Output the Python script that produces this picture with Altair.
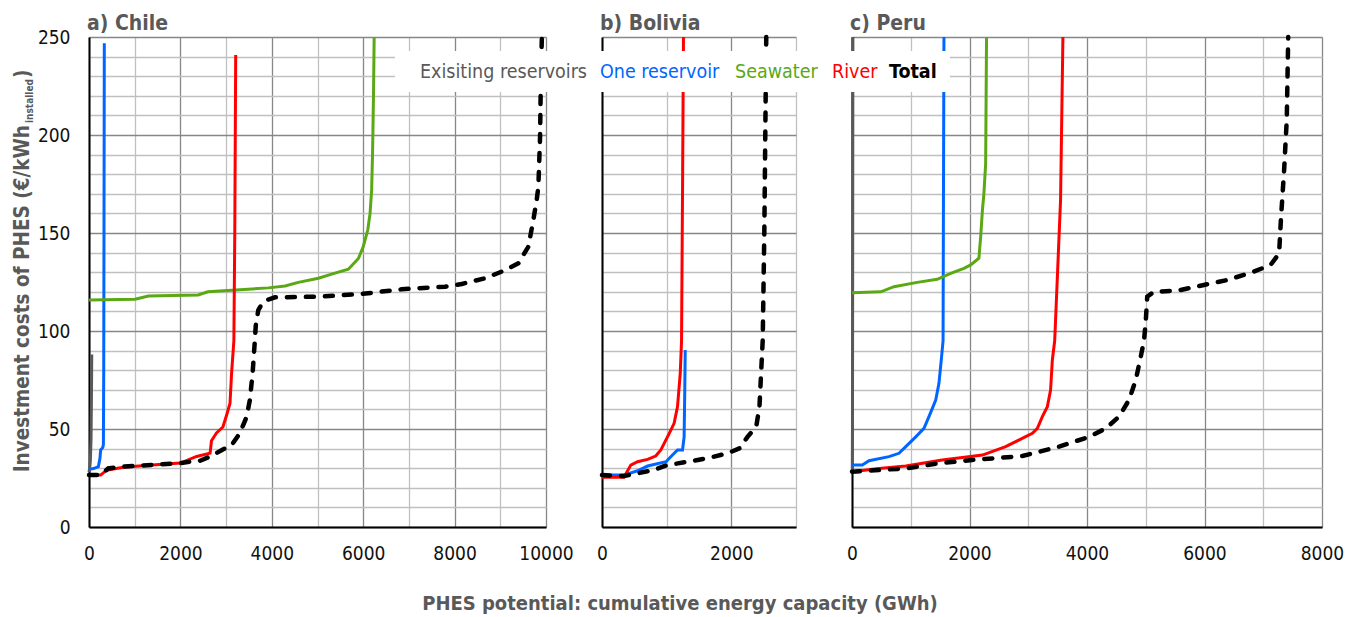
import altair as alt
import pandas as pd

FONT = "DejaVu Sans Condensed, DejaVu Sans"
GRAY = "#595959"
MAJOR = "#878787"
MINOR = "#C0C0C0"

SERIES = ["Exisiting reservoirs", "One reservoir", "Seawater", "River", "Total"]
SERIES_COLORS = ["#595959", "#0066FF", "#5BA815", "#FF0000", "#000000"]
PANEL_TITLES = ["a) Chile", "b) Bolivia", "c) Peru"]
X_TITLE = "PHES potential: cumulative energy capacity (GWh)"
Y_TITLE_MAIN = "Investment costs of PHES (€/kWh"
Y_TITLE_SUB = "installed"
Y_TITLE_END = ")"

# ---- Chile ----
chile_exist_x = [0, 15, 30, 45, 55, 60]
chile_exist_y = [28, 30, 34, 45, 70, 88]
chile_one_x = [0, 100, 205, 240, 255, 300, 315, 322, 328, 335]
chile_one_y = [29.4, 29.8, 30.8, 35, 39.3, 40.5, 42, 80, 150, 246.8]
chile_sea_x = [0, 1007, 1300, 2390, 2600, 3925, 4290, 4580, 5020, 5310, 5675, 5895,
               6000, 6100, 6150, 6185, 6205, 6225, 6240]
chile_sea_y = [115.8, 116.2, 117.8, 118.4, 120, 122, 123, 124.8, 126.9, 129, 131.5, 137,
               143, 151.5, 160, 172, 191, 220, 250]
chile_river_x = [0, 255, 385, 750, 1300, 2000, 2355, 2650, 2680, 2790, 2930, 3010, 3085,
                 3120, 3170, 3190, 3210]
chile_river_y = [26.5, 26.5, 29, 30.5, 31.5, 32.6, 36, 37.7, 44, 48, 51, 57, 63,
                 78.5, 95, 150, 240.8]
chile_total_x = [0, 255, 420, 750, 1990, 2210, 2430, 2650, 2870, 3120, 3300, 3450, 3520,
                 3580, 3620, 3650, 3705, 3800, 3890, 4070, 5020, 5970, 6840, 7790, 8155,
                 8665, 9030, 9395, 9613, 9723, 9796, 9833, 9870, 9890, 9910]
chile_total_y = [26.5, 26.5, 29.9, 30.8, 32.5, 33.3, 33.8, 35.9, 38.8, 41.8, 47.8, 56.3,
                 64.8, 78.4, 92, 103, 110.7, 114.5, 115.8, 117.2, 117.5, 118.9, 121.3,
                 122.6, 124, 126.9, 130.3, 134.5, 143, 156.6, 166.8, 173.6, 199, 233, 250]

# ---- Bolivia ----
bol_one_x = [0, 340, 550, 705, 990, 1090, 1168, 1245, 1270, 1280, 1287]
bol_one_y = [26.5, 26.5, 28.7, 31.1, 33.3, 36.7, 39.3, 39.3, 46, 70, 90.3]
bol_river_x = [0, 340, 445, 550, 705, 830, 910, 1040, 1115, 1168, 1210, 1230, 1245, 1260]
bol_river_y = [25.4, 25.4, 31.6, 33.3, 34.5, 36.2, 39.3, 47.8, 52.9, 61.4, 78.4, 95, 170, 250]
bol_total_x = [0, 340, 550, 805, 1010, 1425, 1735, 1940, 2125, 2250, 2385, 2435, 2460,
               2485, 2510, 2525, 2540]
bol_total_y = [26.5, 26, 27.4, 29.1, 31.6, 33.8, 35.9, 37.6, 40.1, 46, 51.2, 61.4, 78.4,
               95, 150, 200, 250]

# ---- Peru ----
peru_exist_x = [5, 8, 12, 15]
peru_exist_y = [28, 50, 150, 250]
peru_one_x = [0, 175, 290, 630, 800, 915, 1085, 1225, 1310, 1425, 1480, 1525, 1550, 1555, 1565]
peru_one_y = [31.6, 31.6, 33.8, 35.9, 37.6, 41, 46, 50.3, 56.3, 64.8, 73.3, 86.9, 95, 150, 250]
peru_sea_x = [0, 490, 715, 1110, 1450, 1680, 1905, 2020, 2160, 2190, 2220, 2245, 2275, 2290]
peru_sea_y = [119.5, 120, 122.6, 124.8, 126.4, 129.4, 132, 133.7, 137.1, 148, 161.7, 170,
              185.4, 250]
peru_river_x = [0, 460, 915, 1535, 2220, 2615, 3070, 3155, 3240, 3325, 3380, 3410, 3450,
                3465, 3550, 3590]
peru_river_y = [28.2, 29.9, 31.1, 34.2, 36.7, 41, 47.8, 50.3, 56.3, 61.4, 69.9, 85.2, 95,
                105.6, 166.8, 250]
peru_total_x = [0, 915, 1480, 2045, 2900, 3525, 4035, 4320, 4545, 4715, 4830, 4915, 4970,
                5000, 5025, 5140, 5540, 5990, 6390, 6840, 7125, 7270, 7300, 7355, 7400, 7425]
peru_total_y = [28.2, 29.9, 32.5, 34.2, 36.2, 41, 46, 50.3, 56.3, 64.8, 75, 86.9, 95,
                105, 117.5, 120, 120.6, 123.5, 126, 130.3, 133.7, 139.6, 156.6, 182, 207.7, 250]


def to_df(pairs):
    rows = []
    for name, (xs, ys) in pairs.items():
        for i, (x, y) in enumerate(zip(xs, ys)):
            rows.append({"series": name, "x": x, "y": y, "i": i})
    return pd.DataFrame(rows)


chile_df = to_df({
    "Exisiting reservoirs": (chile_exist_x, chile_exist_y),
    "One reservoir": (chile_one_x, chile_one_y),
    "Seawater": (chile_sea_x, chile_sea_y),
    "River": (chile_river_x, chile_river_y),
    "Total": (chile_total_x, chile_total_y),
})
bol_df = to_df({
    "One reservoir": (bol_one_x, bol_one_y),
    "River": (bol_river_x, bol_river_y),
    "Total": (bol_total_x, bol_total_y),
})
peru_df = to_df({
    "Exisiting reservoirs": (peru_exist_x, peru_exist_y),
    "One reservoir": (peru_one_x, peru_one_y),
    "Seawater": (peru_sea_x, peru_sea_y),
    "River": (peru_river_x, peru_river_y),
    "Total": (peru_total_x, peru_total_y),
})


def text_layer(t, x, y, **kw):
    return alt.Chart(pd.DataFrame({"t": [t]})).mark_text(font=FONT, **kw).encode(
        x=alt.value(x), y=alt.value(y), text="t:N")


def panel(df, xmax, width, title, show_ylabels, extra):
    xaxis = alt.Axis(
        values=list(range(0, xmax + 1, 1000)),
        labelExpr="datum.value % 2000 === 0 ? datum.label : ''",
        format="d", grid=True,
        gridColor={"condition": {"test": "datum.value % 2000 === 0", "value": MAJOR}, "value": MINOR},
        gridWidth=1.3, ticks=False, tickSize=0, domainColor="#000000", domainWidth=2,
        labelFont=FONT, labelFontSize=19, labelColor="#111111", labelPadding=17,
        labelOverlap=False, labelFlush=False, title=None)
    yaxis = alt.Axis(
        values=list(range(0, 251, 10)),
        labelExpr="datum.value % 50 === 0 ? datum.label : ''",
        labels=show_ylabels, grid=True,
        gridColor={"condition": {"test": "datum.value % 50 === 0", "value": MAJOR}, "value": MINOR},
        gridWidth=1.3, ticks=False, tickSize=0, domainColor="#000000", domainWidth=2,
        labelFont=FONT, labelFontSize=19, labelColor="#111111", labelPadding=19,
        labelOverlap=False, title=None)
    enc = dict(
        x=alt.X("x:Q", scale=alt.Scale(domain=[0, xmax], nice=False), axis=xaxis),
        y=alt.Y("y:Q", scale=alt.Scale(domain=[0, 250], nice=False), axis=yaxis),
        order=alt.Order("i:Q"),
    )
    layers = []
    for name, color in zip(SERIES[:-1], SERIES_COLORS[:-1]):
        sub = df[df.series == name]
        if len(sub) == 0:
            continue
        layers.append(alt.Chart(sub).mark_line(color=color, strokeWidth=3).encode(**enc))
    tot = df[df.series == "Total"]
    layers.append(alt.Chart(tot).mark_line(color="#000000", strokeWidth=4.5,
                                           strokeDash=[8, 11], strokeCap="round").encode(**enc))
    layers.append(text_layer(title, -2, -7, align="left", baseline="alphabetic",
                             fontSize=21, fontWeight="bold", color=GRAY))
    layers.extend(extra)
    return alt.layer(*layers).properties(width=width, height=490)


# y title (with subscript) in panel a
ytitle = [
    text_layer(Y_TITLE_MAIN, -60, 88, align="right", baseline="alphabetic", angle=270,
               fontSize=20.5, fontWeight="bold", color=GRAY),
    text_layer(Y_TITLE_SUB, -56, 86, align="left", baseline="alphabetic", angle=270,
               fontSize=10, fontWeight="bold", color=GRAY),
    text_layer(Y_TITLE_END, -60, 41, align="left", baseline="alphabetic", angle=270,
               fontSize=20.5, fontWeight="bold", color=GRAY),
]

# x title in panel b
xtitle = [text_layer(X_TITLE, 78, 567, align="center", baseline="middle",
                     fontSize=20, fontWeight="bold", color=GRAY)]

# legend overlay in panel c
legend_x = [-432, -252, -117, -20, 37]
legend_box = alt.Chart(pd.DataFrame({"k": [0]})).mark_rect(color="white").encode(
    x=alt.value(-457), x2=alt.value(98), y=alt.value(14), y2=alt.value(55))
legend = [legend_box]
for name, color, lx in zip(SERIES, SERIES_COLORS, legend_x):
    legend.append(text_layer(name, lx, 35, align="left", baseline="middle", fontSize=19.5,
                             color=color, fontWeight="bold" if name == "Total" else "normal"))

pa = panel(chile_df, 10000, 457, PANEL_TITLES[0], True, ytitle)
pb = panel(bol_df, 3000, 194, PANEL_TITLES[1], False, xtitle)
pc = panel(peru_df, 8000, 470, PANEL_TITLES[2], False, legend)

chart = alt.hconcat(pa, pb, pc, spacing=56, bounds="flush").configure_view(
    stroke=None).properties(padding={"left": 5, "top": 5, "right": 5, "bottom": 0})

chart.save("out.html", embed_options={"renderer": "svg", "actions": False})
